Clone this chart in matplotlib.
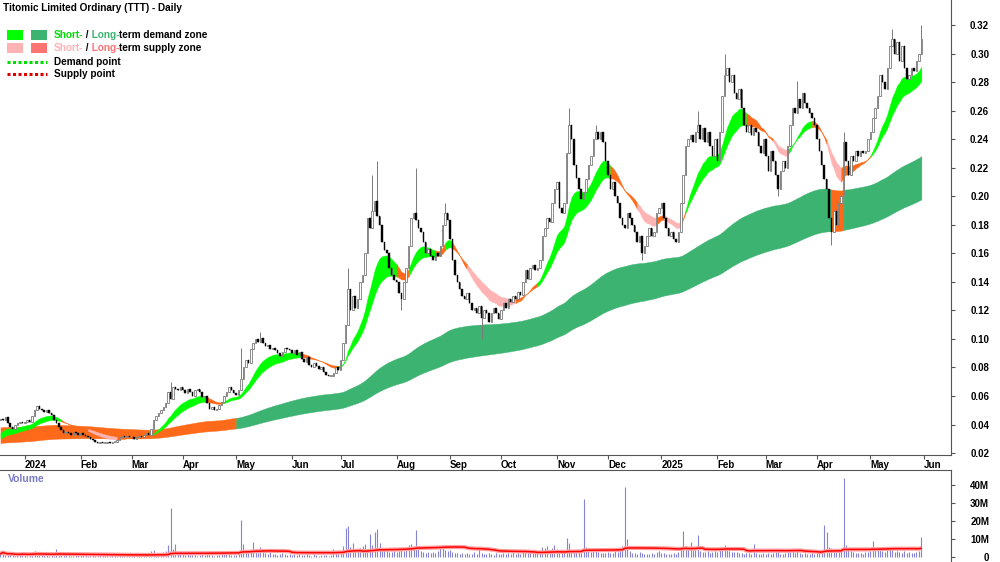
import numpy as np
import pandas as pd
import matplotlib
matplotlib.use("Agg")
import matplotlib.pyplot as plt
from matplotlib.patches import Rectangle
from matplotlib.lines import Line2D

# cours de clôture quotidiens, un tableau par mois
close_dec23 = [0.044, 0.043, 0.045, 0.041, 0.038, 0.037, 0.040, 0.041, 0.042, 0.041]
close_jan24 = [0.042, 0.043, 0.042, 0.046, 0.050, 0.053, 0.051, 0.050, 0.049, 0.050, 0.048, 0.047,
               0.043, 0.041, 0.038, 0.036, 0.034, 0.035, 0.034, 0.033, 0.035, 0.034, 0.033]
close_feb24 = [0.034, 0.033, 0.032, 0.031, 0.030, 0.029, 0.028, 0.027, 0.028, 0.027, 0.027,
               0.028, 0.027, 0.028, 0.028, 0.029, 0.031, 0.032, 0.031, 0.032, 0.031]
close_mar24 = [0.031, 0.030, 0.031, 0.032, 0.031, 0.033, 0.034, 0.033, 0.037, 0.043, 0.046,
               0.048, 0.050, 0.052, 0.055, 0.063, 0.058, 0.066, 0.065, 0.064, 0.066]
close_apr24 = [0.064, 0.062, 0.065, 0.063, 0.060, 0.064, 0.065, 0.063, 0.059, 0.060, 0.055,
               0.051, 0.052, 0.050, 0.051, 0.054, 0.056, 0.060, 0.063, 0.066, 0.064, 0.062]
close_may24 = [0.061, 0.064, 0.072, 0.080, 0.085, 0.083, 0.093, 0.097, 0.100, 0.098, 0.101, 0.097,
               0.095, 0.096, 0.093, 0.094, 0.092, 0.090, 0.088, 0.091, 0.094, 0.093, 0.092]
close_jun24 = [0.090, 0.092, 0.089, 0.091, 0.086, 0.084, 0.087, 0.082, 0.080, 0.083,
               0.081, 0.079, 0.080, 0.077, 0.075, 0.074, 0.074, 0.076, 0.080, 0.078]
close_jul24 = [0.085, 0.097, 0.110, 0.135, 0.120, 0.130, 0.122, 0.128, 0.140, 0.145, 0.160, 0.185,
               0.178, 0.190, 0.197, 0.186, 0.180, 0.168, 0.162, 0.160, 0.150, 0.145, 0.141]
close_aug24 = [0.140, 0.132, 0.128, 0.140, 0.150, 0.165, 0.185, 0.188, 0.183, 0.178, 0.175,
               0.168, 0.160, 0.163, 0.158, 0.155, 0.160, 0.158, 0.165, 0.180, 0.188, 0.183]
close_sep24 = [0.170, 0.155, 0.145, 0.140, 0.135, 0.130, 0.128, 0.132, 0.125, 0.120, 0.122,
               0.118, 0.123, 0.115, 0.120, 0.118, 0.112, 0.118, 0.122, 0.118, 0.114]
close_oct24 = [0.120, 0.125, 0.122, 0.128, 0.126, 0.130, 0.128, 0.133, 0.131, 0.140, 0.148, 0.142,
               0.150, 0.152, 0.148, 0.150, 0.155, 0.172, 0.178, 0.185, 0.182, 0.195, 0.205]
close_nov24 = [0.210, 0.192, 0.188, 0.195, 0.230, 0.250, 0.240, 0.222, 0.213, 0.205, 0.198,
               0.203, 0.212, 0.222, 0.228, 0.240, 0.245, 0.240, 0.245, 0.238, 0.225]
close_dec24 = [0.215, 0.205, 0.210, 0.200, 0.195, 0.185, 0.180, 0.178, 0.188, 0.185, 0.180,
               0.175, 0.168, 0.172, 0.160, 0.165, 0.172, 0.178, 0.172, 0.175, 0.188, 0.192]
close_jan25 = [0.195, 0.185, 0.178, 0.172, 0.175, 0.170, 0.168, 0.175, 0.195, 0.215, 0.235, 0.240,
               0.243, 0.238, 0.245, 0.250, 0.240, 0.248, 0.238, 0.245, 0.235, 0.228, 0.240]
close_feb25 = [0.225, 0.245, 0.270, 0.285, 0.290, 0.280, 0.285, 0.272, 0.268, 0.275,
               0.262, 0.250, 0.245, 0.250, 0.243, 0.248, 0.245, 0.235, 0.230, 0.240]
close_mar25 = [0.228, 0.218, 0.232, 0.225, 0.215, 0.205, 0.218, 0.225, 0.220, 0.235, 0.250,
               0.262, 0.258, 0.268, 0.262, 0.272, 0.265, 0.262, 0.258, 0.255, 0.250]
close_apr25 = [0.240, 0.232, 0.222, 0.212, 0.205, 0.185, 0.175, 0.190, 0.180, 0.195, 0.200,
               0.238, 0.225, 0.215, 0.228, 0.225, 0.232, 0.228, 0.232, 0.230, 0.232, 0.240]
close_may25 = [0.245, 0.255, 0.262, 0.270, 0.285, 0.280, 0.275, 0.290, 0.305, 0.310, 0.300,
               0.308, 0.295, 0.305, 0.290, 0.282, 0.285, 0.290, 0.288, 0.295, 0.300, 0.310]
first_open = 0.043

# mèches notables (indice de séance, valeur)
wick_high_idx = [70, 99, 107, 143, 153, 155, 171, 183, 234, 245, 287, 298, 328, 347, 367, 379]
wick_high_val = [0.070, 0.094, 0.105, 0.150, 0.215, 0.225, 0.220, 0.195, 0.262, 0.250,
                 0.260, 0.300, 0.281, 0.245, 0.317, 0.320]
wick_low_idx = [165, 198, 264, 320, 342]
wick_low_val = [0.120, 0.100, 0.155, 0.200, 0.166]

# volumes quotidiens en millions
vol_dec23 = [1.8, 3.2, 1.2, 0.9, 2.1, 1.0, 0.6, 1.4, 1.1, 2.5]
vol_jan24 = [1.2, 0.8, 1.5, 2.8, 3.5, 1.9, 1.2, 0.9, 1.6, 1.1, 0.7, 1.3, 0.8, 4.5, 1.0, 2.2,
             1.5, 0.9, 1.3, 0.8, 0.6, 1.1, 0.9]
vol_feb24 = [1.4, 0.9, 1.1, 0.6, 0.8, 1.2, 0.7, 0.5, 0.9, 1.0, 0.6, 0.4, 0.8, 1.3, 0.7, 0.5,
             0.9, 0.6, 1.1, 0.8, 0.7]
vol_mar24 = [0.8, 0.6, 1.0, 0.7, 1.2, 0.9, 1.5, 1.1, 3.2, 4.0, 2.5, 2.0, 1.8, 2.6, 3.4, 6.5,
             27.0, 4.5, 7.2, 2.2, 1.8]
vol_apr24 = [1.5, 1.2, 2.0, 1.1, 0.9, 1.3, 0.8, 1.0, 1.6, 1.2, 2.1, 1.8, 1.0, 0.7, 0.9, 1.2,
             1.5, 2.2, 1.8, 2.5, 1.3, 1.0]
vol_may24 = [1.2, 2.8, 20.5, 7.0, 3.5, 2.4, 3.0, 8.5, 4.2, 2.5, 5.5, 3.1, 2.2, 1.8, 2.6, 1.5,
             1.9, 1.2, 1.7, 2.3, 1.4, 1.1, 1.6]
vol_jun24 = [1.3, 1.8, 1.0, 1.5, 1.2, 0.9, 1.4, 1.1, 0.8, 1.6, 1.0, 0.7, 1.2, 0.9, 1.3, 0.8,
             1.1, 4.2, 2.5, 1.9]
vol_jul24 = [3.5, 6.0, 16.2, 17.0, 5.5, 8.0, 4.2, 3.8, 5.0, 6.2, 7.5, 4.5, 13.0, 6.5, 14.0,
             15.5, 8.0, 4.8, 3.9, 5.2, 3.0, 2.8, 3.5]
vol_aug24 = [2.6, 3.1, 4.0, 3.3, 5.2, 6.8, 7.5, 5.0, 15.0, 4.4, 3.6, 2.9, 2.5, 3.0, 2.2, 2.8,
             2.0, 3.4, 4.8, 5.5, 4.0, 3.2]
vol_sep24 = [3.8, 2.7, 2.4, 2.0, 1.8, 2.5, 1.6, 2.2, 1.9, 1.5, 2.8, 1.7, 5.0, 2.3, 1.4, 1.8,
             2.1, 1.6, 1.3, 2.0, 1.5]
vol_oct24 = [1.8, 2.4, 1.6, 2.0, 1.5, 2.6, 1.9, 2.2, 1.7, 3.0, 3.8, 2.5, 3.2, 2.8, 2.1, 2.6,
             3.5, 5.5, 4.8, 6.0, 3.9, 5.2, 6.5]
vol_nov24 = [4.5, 3.2, 2.8, 3.5, 10.5, 7.8, 4.0, 3.1, 2.6, 2.9, 2.2, 32.5, 5.5, 3.8, 3.0, 4.2,
             3.3, 2.7, 2.5, 2.0, 2.4]
vol_dec24 = [3.0, 2.5, 2.2, 3.6, 2.8, 4.5, 6.0, 39.0, 10.0, 3.5, 2.4, 2.0, 1.8, 2.6, 2.2, 1.9,
             1.5, 1.7, 2.3, 1.6, 2.8, 3.2]
vol_jan25 = [2.5, 2.0, 1.8, 1.6, 1.5, 2.2, 1.9, 2.8, 5.5, 14.5, 6.0, 4.5, 8.2, 3.8, 4.0, 12.0,
             3.5, 3.0, 2.6, 3.3, 2.4, 2.8, 3.6]
vol_feb25 = [3.0, 4.5, 5.8, 6.5, 4.2, 3.5, 3.0, 2.6, 2.8, 2.4, 2.2, 1.9, 2.5, 2.0, 1.8, 7.5,
             2.3, 1.7, 1.6, 2.1]
vol_mar25 = [1.8, 2.4, 1.6, 2.0, 2.9, 3.5, 1.7, 1.5, 2.2, 3.0, 2.6, 4.2, 2.4, 3.3, 2.0, 1.8,
             2.5, 1.6, 1.4, 2.1, 1.9]
vol_apr25 = [2.2, 2.6, 3.4, 18.0, 14.0, 5.5, 4.8, 3.9, 4.2, 3.5, 5.0, 44.0, 6.5, 4.0, 3.2,
             2.8, 2.5, 2.0, 2.3, 1.9, 2.6, 3.0]
vol_may25 = [3.5, 9.0, 4.2, 3.8, 5.0, 3.6, 2.9, 4.4, 5.2, 3.9, 3.0, 3.4, 2.7, 2.5, 3.1, 2.2,
             2.6, 2.0, 2.4, 2.9, 3.3, 11.0]

# valeurs de départ des moyennes (lues au bord gauche) et périodes
short_spans = (15, 25)
short_seeds = (0.033, 0.029)
long_spans = (150, 250)
long_seeds = (0.038, 0.027)

# états des zones : d = demande, s = offre, m = transition
short_zone_start = [0, 25, 36, 48, 63, 85, 91, 124, 139, 163, 168, 179, 183, 186, 192, 212,
                    221, 251, 262, 270, 273, 280, 282, 307, 318, 324, 334, 340, 346, 358]
short_zone_state = ['d', 'm', 's', 'm', 'd', 'm', 'd', 'm', 'd', 'm', 'd', 'm', 'd', 'm', 's', 'm',
                    'd', 'm', 's', 'm', 's', 'm', 'd', 'm', 's', 'd', 'm', 's', 'm', 'd']
long_zone_start = [0, 97, 342, 347]
long_zone_state = ['m', 'd', 'm', 'd']

closes = np.array(close_dec23 + close_jan24 + close_feb24 + close_mar24 + close_apr24 + close_may24
                  + close_jun24 + close_jul24 + close_aug24 + close_sep24 + close_oct24 + close_nov24
                  + close_dec24 + close_jan25 + close_feb25 + close_mar25 + close_apr25 + close_may25)
volumes = np.array(vol_dec23 + vol_jan24 + vol_feb24 + vol_mar24 + vol_apr24 + vol_may24
                   + vol_jun24 + vol_jul24 + vol_aug24 + vol_sep24 + vol_oct24 + vol_nov24
                   + vol_dec24 + vol_jan25 + vol_feb25 + vol_mar25 + vol_apr25 + vol_may25)
n = len(closes)
x = np.arange(n)

opens = np.r_[first_open, closes[:-1]]
highs = np.maximum(opens, closes)
lows = np.minimum(opens, closes)
highs[wick_high_idx] = np.maximum(highs[wick_high_idx], wick_high_val)
lows[wick_low_idx] = np.minimum(lows[wick_low_idx], wick_low_val)


def ema(valeurs, span, seed):
    """moyenne mobile exponentielle partant d'une valeur initiale"""
    alpha = 2.0 / (span + 1)
    sortie = np.empty(len(valeurs))
    prec = seed
    for i, v in enumerate(valeurs):
        prec = prec + alpha * (v - prec)
        sortie[i] = prec
    return sortie


def tracer_zone(ax, rapide, lente, debuts, etats, couleurs):
    """remplit la bande entre deux moyennes, un morceau par état"""
    bas = np.minimum(rapide, lente)
    haut = np.maximum(rapide, lente)
    bornes = list(debuts) + [n - 1]
    for k, e in enumerate(etats):
        a, b = bornes[k], bornes[k + 1]
        ax.fill_between(x[a:b + 1], bas[a:b + 1], haut[a:b + 1], facecolor=couleurs[e],
                        edgecolor=couleurs[e], linewidth=0.3, zorder=2)


s_fast = ema(closes, short_spans[0], short_seeds[0])
s_slow = ema(closes, short_spans[1], short_seeds[1])
l_fast = ema(closes, long_spans[0], long_seeds[0])
l_slow = ema(closes, long_spans[1], long_seeds[1])

ORANGE = '#FF6A1A'
couleurs_court = {'d': '#00FF00', 's': '#FFB3B3', 'm': ORANGE}
couleurs_long = {'d': '#3CB371', 's': '#FF7373', 'm': ORANGE}

W, H = 1000, 562
fig = plt.figure(figsize=(W / 100, H / 100), dpi=100)
plt.rcParams['font.family'] = ['Liberation Sans', 'DejaVu Sans']

x_left, x_right = -0.2, 391.2
ax = fig.add_axes([0, 1 - 455 / H, 951 / W, 455 / H])
axv = fig.add_axes([0, 0, 951 / W, 92 / H])

# zones
tracer_zone(ax, l_fast, l_slow, long_zone_start, long_zone_state, couleurs_long)
tracer_zone(ax, s_fast, s_slow, short_zone_start, short_zone_state, couleurs_court)

# chandeliers
hausse = closes >= opens
ax.vlines(x, lows, highs, color='#7a7a7a', lw=0.7, zorder=3)
corps = np.maximum(np.abs(closes - opens), 0.0006)
bas_corps = np.minimum(opens, closes)
ax.bar(x[hausse], corps[hausse], bottom=bas_corps[hausse], width=0.62, facecolor='white',
       edgecolor='#7a7a7a', linewidth=0.6, zorder=4)
ax.bar(x[~hausse], corps[~hausse], bottom=bas_corps[~hausse], width=0.62, facecolor='black',
       edgecolor='black', linewidth=0.3, zorder=4)

ax.set_xlim(x_left, x_right)
ax.set_ylim(0.32 - 430 / 1427, 0.32 + 25 / 1427)

# axe des dates : début de chaque mois
axis_dates = pd.bdate_range("2023-12-18", periods=n + 5)
debuts_mois, etiquettes = [], []
for i in range(1, len(axis_dates)):
    if axis_dates[i].month != axis_dates[i - 1].month:
        debuts_mois.append(i)
        d = axis_dates[i]
        etiquettes.append(str(d.year) if d.month == 1 else d.strftime('%b'))
ax.set_xticks(debuts_mois)
ax.set_xticklabels(etiquettes)
ax.tick_params(axis='x', direction='out', length=3, pad=0.5, labelsize=7, color='#555555')
for lbl in ax.get_xticklabels():
    lbl.set_horizontalalignment('left')
    lbl.set_fontweight('bold')

prix_ticks = np.round(np.arange(0.02, 0.33, 0.02), 2)
ax.yaxis.tick_right()
ax.set_yticks(prix_ticks)
ax.set_yticklabels([f"{v:.2f}" for v in prix_ticks])
ax.tick_params(axis='y', direction='out', length=3, pad=24.5, labelsize=7, color='#555555')
for lbl in ax.get_yticklabels():
    lbl.set_horizontalalignment('right')
    lbl.set_fontweight('bold')

for cote in ['top', 'left']:
    ax.spines[cote].set_visible(False)
for cote in ['right', 'bottom']:
    ax.spines[cote].set_color('#555555')
    ax.spines[cote].set_linewidth(0.8)

# volume
vol_moy = pd.Series(volumes).rolling(50, min_periods=1).mean().values
axv.vlines(x, 0, volumes, color='#8484D4', lw=0.8)
axv.plot(x, vol_moy, color='#FFA0A0', lw=3, solid_capstyle='butt')
axv.plot(x, vol_moy, color='#FF0000', lw=1.1)
axv.set_xlim(x_left, x_right)
axv.set_ylim(-5 / 1.8, 87 / 1.8)
axv.set_xticks([])
axv.yaxis.tick_right()
vol_ticks = [0, 10, 20, 30, 40]
axv.set_yticks(vol_ticks)
axv.set_yticklabels(['0' if v == 0 else f"{v}M" for v in vol_ticks])
axv.tick_params(axis='y', direction='out', length=3, pad=24.5, labelsize=7, color='#555555')
for lbl in axv.get_yticklabels():
    lbl.set_horizontalalignment('right')
    lbl.set_fontweight('bold')
for cote in ['bottom', 'left']:
    axv.spines[cote].set_visible(False)
for cote in ['right', 'top']:
    axv.spines[cote].set_color('#555555')
    axv.spines[cote].set_linewidth(0.8)
axv.text(3, 46, 'Volume', color='#7B7BC8', fontsize=7.5, fontweight='bold', va='top', ha='left')


# titre et légende
def fx(px):
    return px / W


def fy(py):
    return 1 - py / H


fig.text(fx(3), fy(8), 'Titomic Limited Ordinary (TTT) - Daily', fontsize=7.2, fontweight='bold',
         va='center', ha='left')

renderer = fig.canvas.get_renderer()


def texte_multicolore(px, py, morceaux):
    for mot, couleur in morceaux:
        t = fig.text(fx(px), fy(py), mot, color=couleur, fontsize=7.2, fontweight='bold',
                     va='center', ha='left')
        px = t.get_window_extent(renderer).x1


def carre(px, py, couleur):
    fig.add_artist(Rectangle((fx(px), fy(py + 10)), 16 / W, 10 / H, transform=fig.transFigure,
                             facecolor=couleur, edgecolor='none'))


carre(7, 30, '#00FF00')
carre(31, 30, '#3CB371')
carre(7, 43, '#FFB3B3')
carre(31, 43, '#FF7373')
texte_multicolore(54, 35, [('Short-', '#00E000'), (' /', 'black'), (' Long-', '#3CB371'),
                           ('term demand zone', 'black')])
texte_multicolore(54, 48, [('Short-', '#FFB3B3'), (' /', 'black'), (' Long-', '#FF7373'),
                           ('term supply zone', 'black')])
for py, couleur, libelle in [(62, '#00DD00', 'Demand point'), (74, '#DD0000', 'Supply point')]:
    fig.add_artist(Line2D([fx(7), fx(47)], [fy(py), fy(py)], transform=fig.transFigure,
                          color=couleur, lw=2.2, dashes=(1, 0.8)))
    fig.text(fx(54), fy(py), libelle, fontsize=7.2, fontweight='bold', va='center', ha='left')

fig.savefig('out.png', dpi=100, facecolor='white')
